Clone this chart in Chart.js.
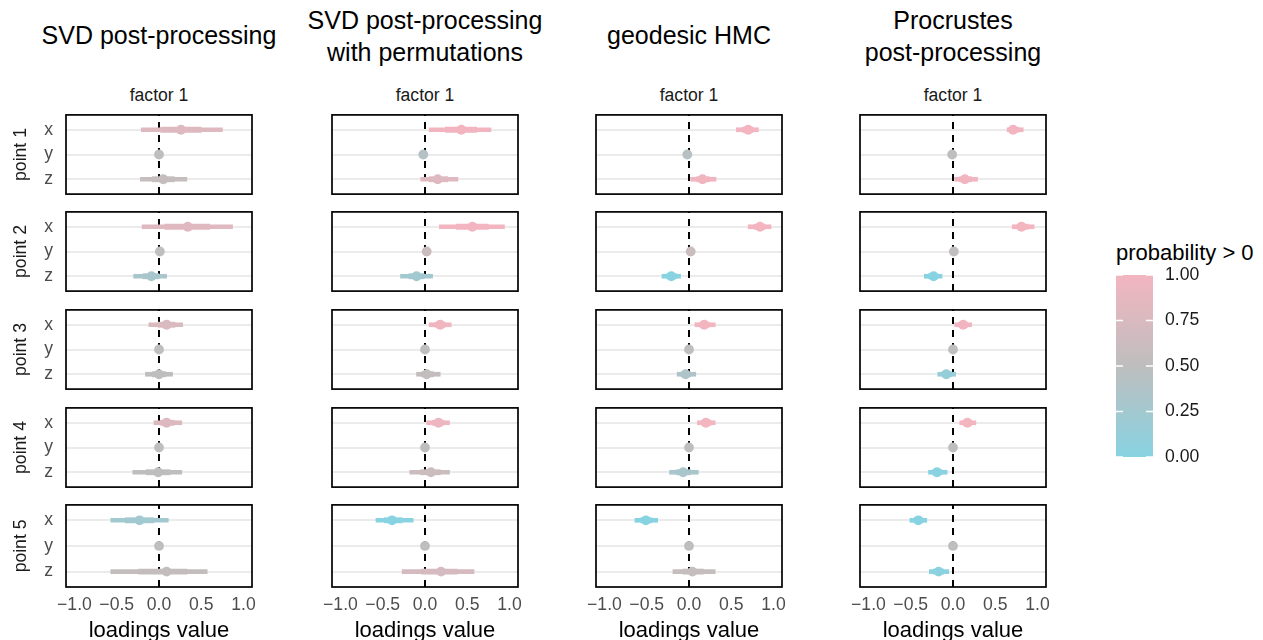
<!DOCTYPE html>
<html>
<head>
<meta charset="utf-8">
<script src="https://cdn.jsdelivr.net/npm/chart.js@4/dist/chart.umd.min.js"></script>
<style>
  html, body { margin: 0; padding: 0; background: #fff; overflow: hidden; }
  #fig { position: relative; width: 1263px; height: 640px; overflow: hidden; background: #fff;
         font-family: "Liberation Sans", Arial, sans-serif; }
  #fig canvas { position: absolute; }
  .ttl { position: absolute; width: 320px; text-align: center; font-size: 25px; line-height: 32px; color: #000; white-space: nowrap; }
  .strip { position: absolute; text-align: center; font-size: 17.6px; line-height: 20px; color: #1a1a1a; white-space: nowrap; }
  .legt { position: absolute; font-size: 22px; line-height: 26px; color: #000; white-space: nowrap; }
</style>
</head>
<body>
<div id="fig"></div>
<script>
// ---- labels -------------------------------------------------------------
const methodTitles = [
  ['SVD post-processing'],
  ['SVD post-processing', 'with permutations'],
  ['geodesic HMC'],
  ['Procrustes', 'post-processing']
];
const factorLabel = 'factor 1';
const pointLabels = ['point 1', 'point 2', 'point 3', 'point 4', 'point 5'];
const coordLabels = ['x', 'y', 'z'];
const loadingTicks = [-1, -0.5, 0, 0.5, 1];
const probTicks = [0, 0.25, 0.5, 0.75, 1];
const zeroRef = 0;

// ---- loadings: rows ordered point 1 x,y,z, point 2 x,y,z, ... ------------
// SVD post-processing
const svdMedian = [0.26, 0.00, 0.05,  0.34, 0.01, -0.09,  0.09, 0.00, 0.00,  0.09, 0.00, -0.01,  -0.23, 0.00, 0.09];
const svdLo95   = [-0.21, -0.04, -0.22,  -0.20, -0.03, -0.30,  -0.12, -0.04, -0.16,  -0.06, -0.04, -0.31,  -0.57, -0.04, -0.57];
const svdHi95   = [0.75, 0.04, 0.33,  0.87, 0.05, 0.09,  0.28, 0.04, 0.16,  0.27, 0.04, 0.27,  0.11, 0.04, 0.57];
const svdLo66   = [0.02, -0.02, -0.08,  0.07, -0.01, -0.19,  -0.01, -0.02, -0.08,  0.02, -0.02, -0.15,  -0.40, -0.02, -0.24];
const svdHi66   = [0.50, 0.02, 0.18,  0.60, 0.03, 0.00,  0.19, 0.02, 0.08,  0.18, 0.02, 0.13,  -0.06, 0.02, 0.33];
const svdProb   = [0.80, 0.50, 0.57,  0.82, 0.52, 0.30,  0.75, 0.50, 0.50,  0.78, 0.50, 0.50,  0.25, 0.50, 0.55];

// SVD post-processing with permutations
const permMedian = [0.43, -0.02, 0.15,  0.56, 0.02, -0.10,  0.18, 0.00, 0.02,  0.16, 0.00, 0.07,  -0.39, 0.00, 0.19];
const permLo95   = [0.05, -0.06, -0.05,  0.17, -0.02, -0.29,  0.05, -0.04, -0.10,  0.02, -0.04, -0.18,  -0.58, -0.04, -0.27];
const permHi95   = [0.78, 0.02, 0.39,  0.94, 0.06, 0.09,  0.31, 0.04, 0.18,  0.29, 0.04, 0.29,  -0.14, 0.04, 0.58];
const permLo66   = [0.24, -0.04, 0.05,  0.37, 0.00, -0.19,  0.12, -0.02, -0.04,  0.09, -0.02, -0.05,  -0.48, -0.02, -0.04];
const permHi66   = [0.61, 0.00, 0.27,  0.75, 0.04, -0.01,  0.24, 0.02, 0.10,  0.22, 0.02, 0.18,  -0.27, 0.02, 0.38];
const permProb   = [0.99, 0.42, 0.80,  1.00, 0.62, 0.25,  0.97, 0.50, 0.55,  0.95, 0.50, 0.62,  0.00, 0.50, 0.72];

// geodesic HMC
const hmcMedian = [0.70, -0.02, 0.16,  0.84, 0.02, -0.21,  0.18, 0.00, -0.04,  0.20, 0.00, -0.07,  -0.51, 0.00, 0.04];
const hmcLo95   = [0.56, -0.06, 0.02,  0.70, -0.02, -0.32,  0.07, -0.04, -0.14,  0.10, -0.04, -0.23,  -0.64, -0.04, -0.19];
const hmcHi95   = [0.82, 0.02, 0.32,  0.97, 0.06, -0.10,  0.31, 0.04, 0.08,  0.31, 0.04, 0.11,  -0.37, 0.04, 0.31];
const hmcLo66   = [0.63, -0.04, 0.09,  0.77, 0.00, -0.26,  0.13, -0.02, -0.09,  0.15, -0.02, -0.15,  -0.57, -0.02, -0.07];
const hmcHi66   = [0.76, 0.00, 0.24,  0.90, 0.04, -0.15,  0.24, 0.02, 0.02,  0.26, 0.02, 0.02,  -0.44, 0.02, 0.17];
const hmcProb   = [1.00, 0.42, 0.98,  1.00, 0.62, 0.00,  1.00, 0.50, 0.35,  1.00, 0.50, 0.30,  0.00, 0.50, 0.57];

// Procrustes post-processing
const procMedian = [0.71, -0.01, 0.14,  0.81, 0.01, -0.23,  0.12, 0.00, -0.08,  0.17, 0.00, -0.19,  -0.41, 0.00, -0.17];
const procLo95   = [0.64, -0.05, 0.02,  0.70, -0.03, -0.34,  0.02, -0.04, -0.18,  0.08, -0.04, -0.29,  -0.51, -0.04, -0.28];
const procHi95   = [0.83, 0.03, 0.29,  0.96, 0.05, -0.13,  0.22, 0.04, 0.03,  0.27, 0.04, -0.07,  -0.31, 0.04, -0.05];
const procLo66   = [0.68, -0.03, 0.08,  0.76, -0.01, -0.29,  0.07, -0.02, -0.13,  0.12, -0.02, -0.24,  -0.46, -0.02, -0.23];
const procHi66   = [0.78, 0.01, 0.22,  0.89, 0.03, -0.18,  0.17, 0.02, -0.02,  0.22, 0.02, -0.13,  -0.36, 0.02, -0.11];
const procProb   = [1.00, 0.50, 0.98,  1.00, 0.52, 0.00,  0.99, 0.50, 0.12,  1.00, 0.50, 0.02,  0.00, 0.50, 0.03];

const methodData = [
  { med: svdMedian,  lo95: svdLo95,  hi95: svdHi95,  lo66: svdLo66,  hi66: svdHi66,  prob: svdProb },
  { med: permMedian, lo95: permLo95, hi95: permHi95, lo66: permLo66, hi66: permHi66, prob: permProb },
  { med: hmcMedian,  lo95: hmcLo95,  hi95: hmcHi95,  lo66: hmcLo66,  hi66: hmcHi66,  prob: hmcProb },
  { med: procMedian, lo95: procLo95, hi95: procHi95, lo66: procLo66, hi66: procHi66, prob: procProb }
];

// ---- layout ---------------------------------------------------------------
const FONT = '"Liberation Sans", Arial, sans-serif';
const panelLeft = [66, 332, 596, 860];
const panelW = 186;
const panelTop = [112, 209, 307, 405, 502];
const panelH = 85;
const bottomEdge = 660;
const PAD = 2;      // room for the frame stroke
const SIDE = 26;    // room for end tick labels

Chart.defaults.font.family = FONT;
Chart.defaults.animation = false;

// ---- colour scale: 0 -> cyan, 0.5 -> grey, 1 -> pink ---------------------
const lowCol = [136, 211, 226], midCol = [190, 190, 190], highCol = [243, 181, 192];
function probColor(p) {
  const a = p < 0.5 ? lowCol : midCol;
  const b = p < 0.5 ? midCol : highCol;
  const t = p < 0.5 ? p / 0.5 : (p - 0.5) / 0.5;
  const c = a.map((v, i) => Math.round(v + (b[i] - v) * t));
  return `rgb(${c[0]},${c[1]},${c[2]})`;
}

const fig = document.getElementById('fig');
function addCanvas(left, top, w, h) {
  const cv = document.createElement('canvas');
  cv.width = w; cv.height = h;
  cv.style.left = left + 'px'; cv.style.top = top + 'px';
  cv.style.width = w + 'px'; cv.style.height = h + 'px';
  fig.appendChild(cv);
  return cv;
}
function addText(cls, text, left, top, width) {
  const d = document.createElement('div');
  d.className = cls;
  d.textContent = text;
  d.style.left = left + 'px'; d.style.top = top + 'px';
  if (width) d.style.width = width + 'px';
  fig.appendChild(d);
}
const fmtTick = v => (v < 0 ? '\u2212' : '') + Math.abs(v).toFixed(1);
const noPad = s => { s.paddingTop = 0; s.paddingBottom = 0; s.paddingLeft = 0; s.paddingRight = 0; };

// panel frame and dashed zero reference
const panelDecor = {
  id: 'panelDecor',
  beforeDatasetsDraw(chart) {
    const { ctx, chartArea: a, scales: { x } } = chart;
    const px = x.getPixelForValue(zeroRef);
    ctx.save();
    ctx.strokeStyle = '#000';
    ctx.lineWidth = 2;
    ctx.setLineDash([7, 6]);
    ctx.beginPath();
    ctx.moveTo(px, a.bottom);
    ctx.lineTo(px, a.top);
    ctx.stroke();
    ctx.restore();
  },
  afterDraw(chart) {
    const { ctx, chartArea: a } = chart;
    ctx.save();
    ctx.strokeStyle = '#000';
    ctx.lineWidth = 1.7;
    ctx.strokeRect(a.left, a.top, a.right - a.left, a.bottom - a.top);
    ctx.restore();
  }
};

function makePanel(c, r) {
  const first = c === 0, last = r === 4;
  const padL = first ? 0 : SIDE;
  const left = panelLeft[c] - (first ? panelLeft[0] : SIDE);
  const top = panelTop[r] - PAD;
  const right = panelLeft[c] + panelW + SIDE;
  const bottom = last ? bottomEdge : panelTop[r] + panelH + PAD;
  const cv = addCanvas(left, top, right - left, bottom - top);

  const d = methodData[c];
  const rows = [0, 1, 2].map(k => r * 3 + k);
  const pos = [1, 2, 3];
  const cols = rows.map(i => probColor(d.prob[i]));

  new Chart(cv, {
    type: 'bar',
    data: {
      datasets: [
        { type: 'bar', order: 2, grouped: false, barPercentage: 1, categoryPercentage: 1,
          maxBarThickness: 4, borderWidth: 0, borderSkipped: false,
          backgroundColor: cols,
          data: rows.map((i, k) => ({ x: [d.lo95[i], d.hi95[i]], y: pos[k] })) },
        { type: 'bar', order: 1, grouped: false, barPercentage: 1, categoryPercentage: 1,
          maxBarThickness: 5.2, borderWidth: 0, borderSkipped: false,
          backgroundColor: cols,
          data: rows.map((i, k) => ({ x: [d.lo66[i], d.hi66[i]], y: pos[k] })) },
        { type: 'scatter', order: 0, pointRadius: 4.9, pointBorderWidth: 0,
          pointBackgroundColor: cols,
          data: rows.map((i, k) => ({ x: d.med[i], y: pos[k] })) }
      ]
    },
    options: {
      indexAxis: 'y',
      responsive: false,
      animation: false,
      events: [],
      layout: { padding: { left: padL, right: SIDE, top: PAD, bottom: last ? 0 : PAD } },
      plugins: { legend: { display: false }, tooltip: { enabled: false } },
      scales: {
        x: {
          type: 'linear', min: -1.1, max: 1.1, display: last, offset: false,
          grid: { display: false, drawTicks: false }, border: { display: false },
          afterBuildTicks: s => { s.ticks = loadingTicks.map(v => ({ value: v })); },
          afterFit: s => { noPad(s); if (last) s.height = bottomEdge - (panelTop[r] + panelH); },
          ticks: { autoSkip: false, maxRotation: 0, minRotation: 0, padding: 8, color: '#4d4d4d',
                   font: { size: 17.6 }, callback: v => fmtTick(v) },
          title: { display: true, text: 'loadings value', color: '#000', font: { size: 22 },
                   padding: { top: 0, bottom: 15.4 } }
        },
        y: {
          type: 'linear', min: 0.4, max: 3.6, reverse: true, display: true, offset: false,
          grid: { color: '#ebebeb', lineWidth: 2, drawTicks: false, offset: false }, border: { display: false },
          afterBuildTicks: s => { s.ticks = pos.map(v => ({ value: v })); },
          afterFit: s => { noPad(s); s.width = first ? panelLeft[0] : 0; },
          ticks: { display: first, padding: 13, color: '#4d4d4d', font: { size: 17.6 },
                   callback: v => coordLabels[v - 1] },
          title: { display: first, text: pointLabels[r], color: '#1a1a1a', font: { size: 17.6 },
                   padding: { top: 10.4, bottom: 0 } }
        }
      }
    },
    plugins: [panelDecor]
  });
}

// ---- titles and strips ----------------------------------------------------
methodTitles.forEach((lines, c) => {
  const cx = panelLeft[c] + panelW / 2;
  const top0 = lines.length === 1 ? 19 : 3.5;
  lines.forEach((t, k) => addText('ttl', t, cx - 160, top0 + 32 * k, 320));
  addText('strip', factorLabel, panelLeft[c], 85, panelW);
});

for (let c = 0; c < 4; c++) for (let r = 0; r < 5; r++) makePanel(c, r);

// ---- colour bar legend ----------------------------------------------------
addText('legt', 'probability > 0', 1116, 240);

const barLeft = 1116, barW = 37, barTop = 275, barBottom = 457;
const legCanvas = addCanvas(barLeft - 6, barTop - 12, 1263 - (barLeft - 6), barBottom - barTop + 24);
const colourBar = {
  id: 'colourBar',
  beforeDraw(chart) {
    const { ctx, chartArea: a, scales: { y } } = chart;
    const g = ctx.createLinearGradient(0, a.bottom, 0, a.top);
    for (let k = 0; k <= 20; k++) g.addColorStop(k / 20, probColor(k / 20));
    ctx.save();
    ctx.fillStyle = g;
    ctx.fillRect(a.left, a.top, a.right - a.left, a.bottom - a.top);
    ctx.strokeStyle = '#fff';
    ctx.lineWidth = 1.3;
    probTicks.forEach(v => {
      const py = y.getPixelForValue(v);
      ctx.beginPath();
      ctx.moveTo(a.left, py); ctx.lineTo(a.left + 7, py);
      ctx.moveTo(a.right - 7, py); ctx.lineTo(a.right, py);
      ctx.stroke();
    });
    ctx.restore();
  }
};
new Chart(legCanvas, {
  type: 'scatter',
  data: { datasets: [] },
  options: {
    responsive: false, animation: false, events: [],
    layout: { padding: { left: 6, top: 12, bottom: 12, right: 0 } },
    plugins: { legend: { display: false }, tooltip: { enabled: false } },
    scales: {
      x: { type: 'linear', display: false, min: 0, max: 1, afterFit: noPad },
      y: {
        type: 'linear', position: 'right', min: 0, max: 1,
        grid: { display: false, drawTicks: false }, border: { display: false },
        afterBuildTicks: s => { s.ticks = probTicks.map(v => ({ value: v })); },
        afterFit: s => { noPad(s); s.width = legCanvas.width - 6 - barW; },
        ticks: { padding: 12, color: '#1a1a1a', font: { size: 17.6 }, callback: v => v.toFixed(2) }
      }
    }
  },
  plugins: [colourBar]
});
</script>
</body>
</html>
